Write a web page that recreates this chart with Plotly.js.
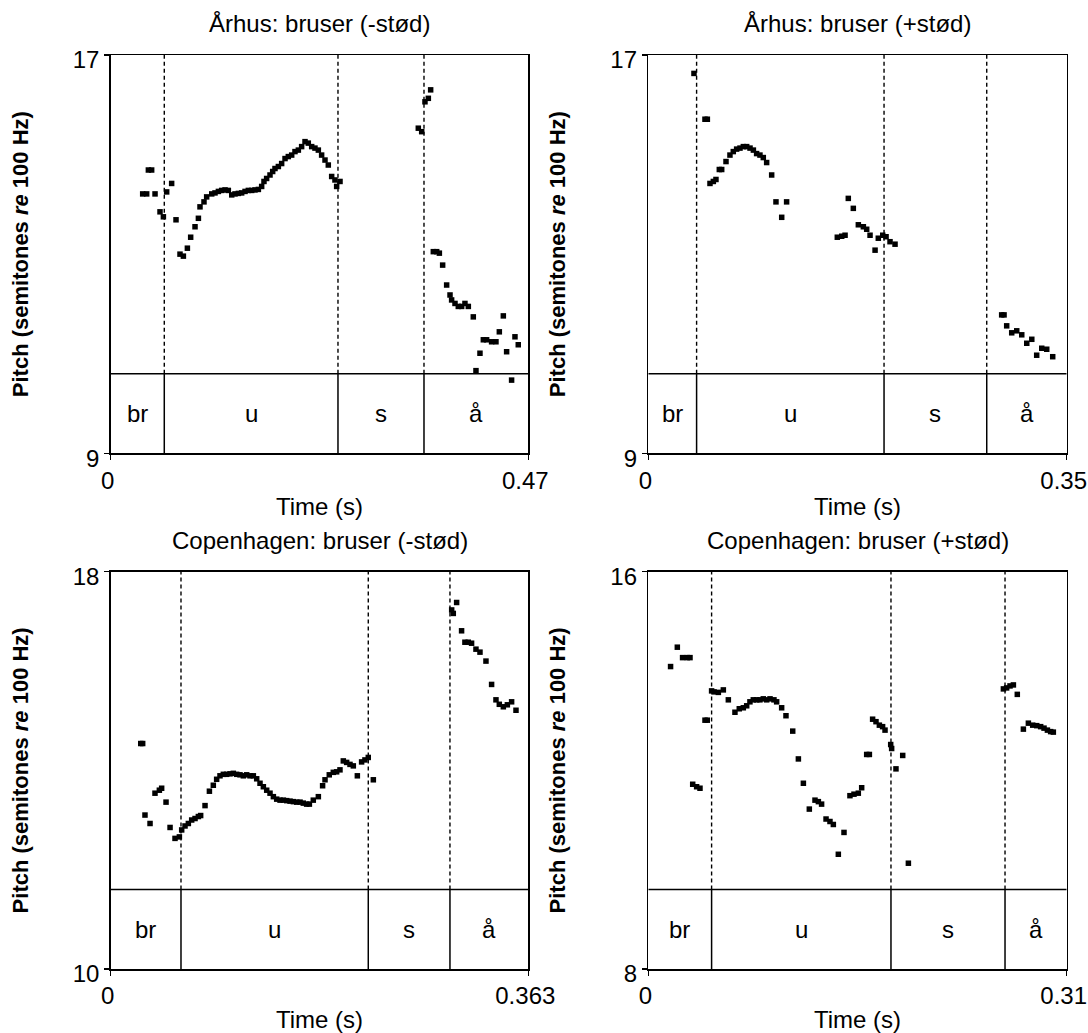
<!DOCTYPE html>
<html><head><meta charset="utf-8">
<script src="https://cdn.plot.ly/plotly-3.0.1.min.js"></script>
<style>html,body{margin:0;padding:0;background:#fff}#chart{width:1088px;height:1033px}</style>
</head><body><div id="chart"></div>
<script>
const panelTitles = ["Århus: bruser (-stød)", "Århus: bruser (+stød)", "Copenhagen: bruser (-stød)", "Copenhagen: bruser (+stød)"];
const timeMax = [0.47, 0.35, 0.363, 0.31];
const timeMaxLabels = ["0.47", "0.35", "0.363", "0.31"];
const pitchMin = [9, 9, 10, 8];
const pitchMax = [17, 17, 18, 16];
const segLabels = ["br", "u", "s", "å"];
const segBounds1 = [0, 0.0603, 0.2558, 0.3526, 0.47];
const segBounds2 = [0, 0.0404, 0.1972, 0.2831, 0.35];
const segBounds3 = [0, 0.0611, 0.2239, 0.2949, 0.363];
const segBounds4 = [0, 0.0469, 0.1798, 0.2643, 0.31];

const time1 = [0.0360,0.0405,0.0424,0.0461,0.0499,0.0555,0.0593,0.0630,0.0686,0.0735,0.0780,0.0818,0.0863,0.0900,0.0949,0.0987,0.1005,0.1050,0.1080,0.1137,0.1174,0.1212,0.1249,0.1287,0.1324,0.1362,0.1399,0.1437,0.1474,0.1512,0.1549,0.1587,0.1624,0.1662,0.1699,0.1725,0.1755,0.1793,0.1823,0.1849,0.1887,0.1924,0.1962,0.1999,0.2037,0.2074,0.2112,0.2149,0.2187,0.2224,0.2262,0.2299,0.2337,0.2374,0.2412,0.2449,0.2487,0.2524,0.2543,0.2581,0.3462,0.3500,0.3537,0.3575,0.3601,0.3631,0.3669,0.3699,0.3736,0.3781,0.3819,0.3837,0.3875,0.3912,0.3950,0.3987,0.4025,0.4081,0.4111,0.4156,0.4194,0.4231,0.4287,0.4336,0.4374,0.4419,0.4456,0.4512,0.4550,0.4587];
const pitch1 = [14.21,14.21,14.69,14.69,14.21,13.85,13.75,14.25,14.42,13.69,13.00,12.96,13.12,13.34,13.55,13.72,13.95,14.05,14.15,14.21,14.23,14.26,14.28,14.29,14.28,14.19,14.21,14.22,14.23,14.26,14.28,14.28,14.29,14.30,14.36,14.46,14.52,14.59,14.66,14.72,14.76,14.82,14.92,14.96,14.99,15.06,15.09,15.16,15.26,15.23,15.16,15.13,15.09,14.99,14.89,14.79,14.56,14.49,14.36,14.46,15.53,15.46,16.06,16.13,16.30,13.05,13.05,13.02,12.78,12.38,12.18,12.08,12.01,11.95,11.95,12.01,11.95,11.74,10.66,11.01,11.28,11.28,11.24,11.24,11.44,11.76,11.04,10.47,11.34,11.18];

const time2 = [0.0382,0.0474,0.0494,0.0516,0.0544,0.0566,0.0594,0.0614,0.0650,0.0683,0.0711,0.0739,0.0767,0.0795,0.0823,0.0851,0.0879,0.0906,0.0934,0.0962,0.0990,0.1032,0.1068,0.1116,0.1157,0.1581,0.1618,0.1646,0.1673,0.1715,0.1757,0.1799,0.1827,0.1855,0.1897,0.1924,0.1961,0.1989,0.2022,0.2064,0.2956,0.2976,0.2998,0.3040,0.3082,0.3124,0.3166,0.3208,0.3249,0.3291,0.3333,0.3383];
const pitch2 = [16.63,15.71,15.71,14.42,14.46,14.50,14.70,14.70,14.86,14.99,15.06,15.11,15.13,15.16,15.16,15.13,15.09,15.02,14.99,14.94,14.84,14.59,14.05,13.74,14.05,13.34,13.36,13.38,14.12,13.92,13.59,13.55,13.50,13.38,13.08,13.32,13.38,13.35,13.25,13.20,11.78,11.78,11.56,11.42,11.46,11.38,11.21,11.29,10.97,11.11,11.09,10.94];

const time3 = [0.0261,0.0278,0.0298,0.0342,0.0385,0.0423,0.0443,0.0481,0.0516,0.0559,0.0597,0.0617,0.0646,0.0675,0.0704,0.0733,0.0762,0.0782,0.0820,0.0858,0.0892,0.0921,0.0950,0.0979,0.1008,0.1037,0.1066,0.1095,0.1124,0.1153,0.1182,0.1211,0.1240,0.1269,0.1298,0.1327,0.1356,0.1385,0.1414,0.1443,0.1472,0.1501,0.1530,0.1559,0.1588,0.1617,0.1646,0.1674,0.1703,0.1727,0.1761,0.1805,0.1842,0.1863,0.1900,0.1935,0.1964,0.1993,0.2022,0.2051,0.2080,0.2109,0.2144,0.2181,0.2210,0.2239,0.2283,0.2964,0.2978,0.3007,0.3050,0.3079,0.3108,0.3137,0.3175,0.3210,0.3262,0.3311,0.3349,0.3378,0.3413,0.3448,0.3485,0.3523];
const pitch3 = [14.54,14.54,13.10,12.93,13.54,13.60,13.64,13.36,12.85,12.63,12.66,12.80,12.88,12.93,13.00,13.03,13.07,13.09,13.29,13.58,13.70,13.82,13.89,13.92,13.92,13.93,13.94,13.92,13.91,13.89,13.91,13.89,13.89,13.83,13.74,13.67,13.60,13.54,13.47,13.42,13.40,13.40,13.39,13.38,13.37,13.36,13.36,13.34,13.32,13.32,13.40,13.47,13.69,13.81,13.91,13.96,13.97,14.01,14.19,14.16,14.12,14.09,13.89,14.17,14.21,14.26,13.81,17.23,17.16,17.38,16.81,16.58,16.58,16.56,16.44,16.38,16.20,15.73,15.42,15.33,15.28,15.32,15.38,15.21];

const time4 = [0.0165,0.0215,0.0254,0.0289,0.0309,0.0329,0.0358,0.0383,0.0420,0.0437,0.0469,0.0487,0.0519,0.0556,0.0593,0.0642,0.0674,0.0704,0.0729,0.0753,0.0778,0.0803,0.0827,0.0852,0.0877,0.0902,0.0931,0.0951,0.0988,0.1020,0.1070,0.1112,0.1149,0.1193,0.1235,0.1260,0.1284,0.1317,0.1346,0.1371,0.1408,0.1450,0.1494,0.1524,0.1556,0.1581,0.1618,0.1638,0.1662,0.1687,0.1712,0.1736,0.1754,0.1796,0.1803,0.1835,0.1885,0.1927,0.2631,0.2655,0.2680,0.2705,0.2734,0.2779,0.2816,0.2848,0.2878,0.2907,0.2932,0.2957,0.2981,0.3001];
const pitch4 = [14.09,14.48,14.27,14.27,14.27,11.72,11.67,11.64,13.01,13.01,13.60,13.58,13.57,13.62,13.42,13.17,13.24,13.26,13.30,13.38,13.42,13.42,13.42,13.44,13.42,13.44,13.42,13.38,13.26,13.10,12.79,12.23,11.74,11.22,11.40,11.37,11.32,11.02,10.97,10.91,10.31,10.75,11.49,11.52,11.54,11.65,12.32,12.32,13.03,12.98,12.91,12.88,12.81,12.52,12.44,12.03,12.30,10.13,13.64,13.66,13.70,13.72,13.53,12.83,12.95,12.91,12.90,12.88,12.85,12.81,12.78,12.77];

const times = [time1, time2, time3, time4];
const pitches = [pitch1, pitch2, pitch3, pitch4];
const segBounds = [segBounds1, segBounds2, segBounds3, segBounds4];

const FONT = "Liberation Sans, Arial, sans-serif";
const FS = 24;
const W = 1088, H = 1033;
const xDomains = [[110.7/W, 528.3/W], [648.3/W, 1066.7/W]];
const yDomains = [[1-453.3/H, 1-55/H], [1-969/H, 1-571.7/H]];
const SEG_FRAC = 0.2;

const data = [];
const layout = {
  width: W, height: H,
  margin: {l:0, r:0, t:0, b:0},
  paper_bgcolor: "#fff", plot_bgcolor: "#fff",
  showlegend: false,
  font: {family: FONT, size: FS, color: "#000"},
  shapes: [], annotations: []
};

for (let i = 0; i < 4; i++) {
  const n = i === 0 ? "" : String(i + 1);
  const xa = "x" + n, ya = "y" + n;
  const col = i % 2, row = Math.floor(i / 2);
  data.push({
    type: "scatter", mode: "markers", x: times[i], y: pitches[i],
    xaxis: xa, yaxis: ya, cliponaxis: false,
    marker: {symbol: "square", size: 5.5, color: "#000"},
    hoverinfo: "x+y"
  });
  layout["xaxis" + n] = {
    domain: xDomains[col], anchor: ya, range: [0, timeMax[i]],
    showgrid: false, zeroline: false, showline: true, mirror: true,
    linecolor: "#000", linewidth: 1.5,
    ticks: "outside", ticklen: 5, tickwidth: 1.5, tickcolor: "#000",
    tickvals: [0, timeMax[i]], ticktext: ["0", timeMaxLabels[i]],
    ticklabelshift: -3, ticklabeloverflow: "allow",
    tickfont: {family: FONT, size: FS, color: "#000"},
    title: {text: "Time (s)", font: {family: FONT, size: FS, color: "#000"}, standoff: 5}
  };
  layout["yaxis" + n] = {
    domain: yDomains[row], anchor: xa, range: [pitchMin[i], pitchMax[i]],
    showgrid: false, zeroline: false, showline: true, mirror: true,
    linecolor: "#000", linewidth: 1.5,
    ticks: "outside", ticklen: 5, tickwidth: 1.5, tickcolor: "#000",
    tickvals: [pitchMin[i], pitchMax[i]], ticktext: [String(pitchMin[i]), String(pitchMax[i])],
    ticklabelshift: 5, ticklabeloverflow: "allow",
    tickfont: {family: FONT, size: FS, color: "#000"},
    title: {text: "<b>Pitch (semitones <i>re</i> 100 Hz)</b>", font: {family: FONT, size: 22, color: "#000"}, standoff: 38}
  };
  layout.annotations.push({
    xref: xa + " domain", yref: ya + " domain", x: 0.5, y: 1,
    yanchor: "middle", xanchor: "center", yshift: 31, showarrow: false,
    text: panelTitles[i], font: {family: FONT, size: FS, color: "#000"}
  });
  const b = segBounds[i];
  layout.shapes.push({type: "line", xref: xa, yref: ya + " domain", x0: 0, x1: timeMax[i], y0: SEG_FRAC, y1: SEG_FRAC, line: {color: "#000", width: 1.5}});
  for (let k = 1; k < b.length - 1; k++) {
    layout.shapes.push({type: "line", xref: xa, yref: ya + " domain", x0: b[k], x1: b[k], y0: 0, y1: SEG_FRAC, line: {color: "#000", width: 1.5}});
    layout.shapes.push({type: "line", xref: xa, yref: ya + " domain", x0: b[k], x1: b[k], y0: SEG_FRAC, y1: 1, line: {color: "#000", width: 1.4, dash: "4px,3px"}});
  }
  for (let k = 0; k < segLabels.length; k++) {
    layout.annotations.push({
      xref: xa, yref: ya + " domain", x: (b[k] + b[k+1]) / 2, y: SEG_FRAC / 2,
      xanchor: "center", yanchor: "middle", showarrow: false,
      text: segLabels[k], font: {family: FONT, size: FS, color: "#000"}
    });
  }
}

Plotly.newPlot("chart", data, layout, {displayModeBar: false, staticPlot: true});
</script>
</body></html>
